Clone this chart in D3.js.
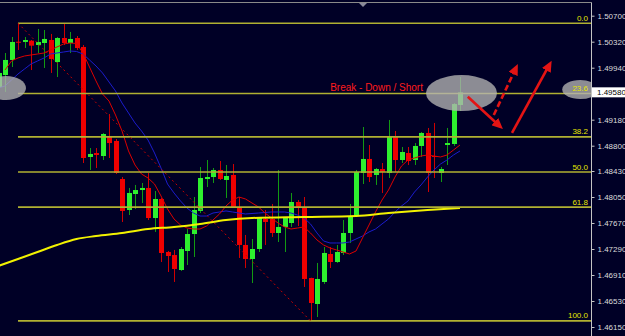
<!DOCTYPE html>
<html>
<head>
<meta charset="utf-8">
<script src="https://cdn.jsdelivr.net/npm/d3@7/dist/d3.min.js"></script>
<style>
body { margin: 0; background: #000026; }
svg { display: block; }
</style>
</head>
<body>
<svg id="chart" width="625" height="336"></svg>
<script>
// bar data, one entry per candle (left to right)
var opens = [1.49658, 1.49833, 1.50053, 1.50320, 1.50316, 1.50335, 1.50272, 1.50301, 1.50345, 1.50023,
    1.50374, 1.50301, 1.50374, 1.50243, 1.48635, 1.48693, 1.48649, 1.48942, 1.48869, 1.48313,
    1.47860, 1.48094, 1.48152, 1.48182, 1.47743, 1.48021, 1.47246, 1.47202, 1.46983, 1.47261,
    1.47509, 1.47846, 1.48313, 1.48342, 1.48445, 1.48299, 1.48372, 1.47904, 1.47349, 1.47144,
    1.47290, 1.47729, 1.47729, 1.47524, 1.47612, 1.47670, 1.47977, 1.47904, 1.46866, 1.46486,
    1.46808, 1.47217, 1.47100, 1.47232, 1.47524, 1.47772, 1.48401, 1.48606, 1.48372, 1.48459,
    1.48401, 1.48927, 1.48591, 1.48693, 1.48591, 1.48796, 1.48986, 1.48649, 1.48401, 1.48810,
    1.48825, 1.49395];
var highs = [1.49906, 1.50155, 1.50389, 1.50590, 1.50389, 1.50345, 1.50506, 1.50491, 1.50433, 1.50389,
    1.50586, 1.50462, 1.50403, 1.50272, 1.48766, 1.48766, 1.48986, 1.49263, 1.48898, 1.48342,
    1.48182, 1.48226, 1.48255, 1.48401, 1.48138, 1.48036, 1.47261, 1.47276, 1.47319, 1.47582,
    1.48050, 1.48489, 1.48591, 1.48474, 1.48576, 1.48518, 1.48532, 1.48050, 1.47495, 1.47436,
    1.47758, 1.47860, 1.47948, 1.48445, 1.47758, 1.48109, 1.48006, 1.48050, 1.46870, 1.47086,
    1.47319, 1.47319, 1.47349, 1.47714, 1.47948, 1.48445, 1.49073, 1.48810, 1.48474, 1.48547,
    1.49176, 1.49015, 1.48781, 1.48781, 1.48839, 1.49000, 1.49059, 1.49132, 1.48489, 1.49059,
    1.49424, 1.49804];
var lows = [1.49585, 1.49585, 1.49950, 1.50199, 1.50228, 1.49906, 1.50155, 1.49936, 1.49863, 1.49804,
    1.50272, 1.50155, 1.50199, 1.48547, 1.48445, 1.48474, 1.48591, 1.48620, 1.48386, 1.47685,
    1.47787, 1.47875, 1.47962, 1.47714, 1.47539, 1.47100, 1.46954, 1.46808, 1.46969, 1.47056,
    1.47173, 1.47816, 1.48196, 1.48255, 1.48299, 1.48036, 1.47889, 1.47159, 1.47012, 1.46793,
    1.47246, 1.47349, 1.47466, 1.47392, 1.47246, 1.47612, 1.47626, 1.46735, 1.46240, 1.46296,
    1.46779, 1.47012, 1.47086, 1.47202, 1.47378, 1.47758, 1.48240, 1.48269, 1.48226, 1.48109,
    1.48328, 1.48416, 1.48547, 1.48518, 1.48518, 1.48635, 1.48123, 1.48328, 1.48269, 1.48518,
    1.48796, 1.49307];
var closes = [1.49863, 1.50053, 1.50316, 1.50305, 1.50345, 1.50262, 1.50316, 1.50360, 1.50067, 1.50374,
    1.50301, 1.50360, 1.50228, 1.48620, 1.48679, 1.48664, 1.48971, 1.48839, 1.48401, 1.47846,
    1.48109, 1.48152, 1.48182, 1.47743, 1.48021, 1.47232, 1.47188, 1.46998, 1.47290, 1.47509,
    1.47860, 1.48328, 1.48342, 1.48445, 1.48313, 1.48357, 1.47904, 1.47349, 1.47144, 1.47290,
    1.47743, 1.47685, 1.47524, 1.47612, 1.47743, 1.47977, 1.47904, 1.46852, 1.46501, 1.46852,
    1.47232, 1.47100, 1.47246, 1.47524, 1.47772, 1.48416, 1.48606, 1.48342, 1.48459, 1.48416,
    1.48927, 1.48591, 1.48708, 1.48576, 1.48796, 1.48986, 1.48401, 1.48635, 1.48459, 1.48839,
    1.49409, 1.49580];

// moving averages, one value per bar
var redMA = [null, 1.49906, 1.50038, 1.50082, 1.50111, 1.50126, 1.50140, 1.50155, 1.50199, 1.50243,
    1.50286, 1.50301, 1.50294, 1.50155, 1.49950, 1.49746, 1.49556, 1.49453, 1.49249, 1.49015,
    1.48723, 1.48518, 1.48386, 1.48328, 1.48240, 1.48065, 1.47875, 1.47729, 1.47641, 1.47597,
    1.47582, 1.47582, 1.47626, 1.47714, 1.47802, 1.47919, 1.48006, 1.48050, 1.48021, 1.47962,
    1.47904, 1.47816, 1.47743, 1.47670, 1.47612, 1.47582, 1.47597, 1.47612, 1.47524, 1.47422,
    1.47349, 1.47305, 1.47276, 1.47246, 1.47217, 1.47261, 1.47451, 1.47641, 1.47831, 1.48006,
    1.48152, 1.48342, 1.48503, 1.48591, 1.48620, 1.48649, 1.48664, 1.48649, 1.48635, 1.48664,
    1.48737, 1.48810];
var blueMA = [1.49643, 1.49673, 1.49760, 1.49848, 1.49921, 1.49994, 1.50038, 1.50082, 1.50140, 1.50155,
    1.50169, 1.50184, 1.50177, 1.50140, 1.50053, 1.49965, 1.49863, 1.49731, 1.49599, 1.49424,
    1.49278, 1.49132, 1.49015, 1.48883, 1.48693, 1.48474, 1.48240, 1.48109, 1.47992, 1.47889,
    1.47816, 1.47772, 1.47772, 1.47816, 1.47831, 1.47846, 1.47831, 1.47816, 1.47802, 1.47809,
    1.47816, 1.47823, 1.47831, 1.47831, 1.47831, 1.47816, 1.47787, 1.47743, 1.47656, 1.47524,
    1.47407, 1.47378, 1.47378, 1.47378, 1.47392, 1.47436, 1.47480, 1.47539, 1.47582, 1.47656,
    1.47729, 1.47831, 1.47919, 1.47992, 1.48123, 1.48226, 1.48342, 1.48445, 1.48532, 1.48591,
    1.48664, 1.48723];
// slow average, read at a few bars
var yellowBars = [0, 3, 6, 9, 12, 15, 19, 23, 27, 31, 35, 39, 47, 55, 60, 66, 71];
var yellowMA = [1.47042, 1.47144, 1.47246, 1.47349, 1.47436, 1.47480, 1.47524, 1.47582, 1.47612,
    1.47656, 1.47714, 1.47743, 1.47758, 1.47772, 1.47816, 1.47860, 1.47889];

// price axis
var tickValues = [1.50700, 1.50320, 1.49940, 1.49180, 1.48800, 1.48430, 1.48050,
    1.47670, 1.47290, 1.46910, 1.46530, 1.46150];

// fibonacci retracement
var fibHigh = 1.50590, fibHighBar = 3;
var fibLow = 1.46240, fibLowBar = 48;
var fibLevels = [0, 23.6, 38.2, 50, 61.8, 100];
var fibLabels = ["0.0", "23.6", "38.2", "50.0", "61.8", "100.0"];

var svg = d3.select("#chart"),
    width = +svg.attr("width"),
    height = +svg.attr("height"),
    plotRight = 591;

var x = d3.scaleLinear().domain([0, 71]).range([-1.5, 460]);
var y = d3.scaleLinear().domain([1.46150, 1.50700]).range([327, 15.7]);

svg.append("rect").attr("width", width).attr("height", height).attr("fill", "#000026");

var defs = svg.append("defs");
defs.append("clipPath").attr("id", "plotclip")
    .append("rect").attr("x", 0).attr("y", 3).attr("width", plotRight).attr("height", height - 3);
defs.append("marker")
    .attr("id", "head")
    .attr("markerUnits", "userSpaceOnUse")
    .attr("markerWidth", 12).attr("markerHeight", 10)
    .attr("refX", 11).attr("refY", 5)
    .attr("orient", "auto")
    .append("path").attr("d", "M0,0 L11,5 L0,10 Z").attr("fill", "#e41414");

var plot = svg.append("g").attr("clip-path", "url(#plotclip)");

// candles
var bars = opens.map(function (d, i) { return i; });
var candle = plot.append("g").selectAll("g").data(bars).enter().append("g");
candle.append("line")
    .attr("x1", function (i) { return Math.round(x(i)) + 0.5; })
    .attr("x2", function (i) { return Math.round(x(i)) + 0.5; })
    .attr("y1", function (i) { return y(highs[i]); })
    .attr("y2", function (i) { return y(lows[i]); })
    .attr("stroke", function (i) { return closes[i] >= opens[i] ? "#129a12" : "#d00000"; })
    .attr("stroke-width", 1);
candle.append("rect")
    .attr("x", function (i) { return Math.round(x(i)) - 2; })
    .attr("width", 5)
    .attr("y", function (i) { return y(Math.max(opens[i], closes[i])); })
    .attr("height", function (i) { return Math.max(1, Math.abs(y(opens[i]) - y(closes[i]))); })
    .attr("fill", function (i) { return closes[i] >= opens[i] ? "#2ef02e" : "#ee0000"; });

// moving averages
var maLine = d3.line()
    .defined(function (d) { return d != null; })
    .x(function (d, i) { return x(i); })
    .y(function (d) { return y(d); });
plot.append("path").attr("d", maLine(blueMA))
    .attr("fill", "none").attr("stroke", "#1c1ccc").attr("stroke-width", 1);
plot.append("path").attr("d", maLine(redMA))
    .attr("fill", "none").attr("stroke", "#dd0000").attr("stroke-width", 1);
var slowLine = d3.line()
    .x(function (d, i) { return x(yellowBars[i]); })
    .y(function (d) { return y(d); })
    .curve(d3.curveMonotoneX);
plot.append("path").attr("d", slowLine(yellowMA))
    .attr("fill", "none").attr("stroke", "#f2f200").attr("stroke-width", 2);

// fib levels
var fibPrice = function (r) { return fibHigh - (fibHigh - fibLow) * r / 100; };
var fib = plot.append("g");
fib.selectAll("line").data(fibLevels).enter().append("line")
    .attr("x1", x(fibHighBar)).attr("x2", plotRight)
    .attr("y1", function (d) { return y(fibPrice(d)); })
    .attr("y2", function (d) { return y(fibPrice(d)); })
    .attr("stroke", "#b0b032").attr("stroke-width", 1.6);
plot.append("line")
    .attr("x1", x(fibHighBar)).attr("y1", y(fibHigh))
    .attr("x2", x(fibLowBar)).attr("y2", y(fibLow))
    .attr("stroke", "#c80000").attr("stroke-width", 1)
    .attr("stroke-dasharray", "2,3");

// highlight ellipses
var ellipses = [
    {bar: 1.15, price: 1.49643, rx: 20, ry: 12},
    {bar: 71.23, price: 1.49570, rx: 35.5, ry: 18},
    {bar: 89.5, price: 1.49621, rx: 18, ry: 9.5}
];
plot.selectAll("ellipse").data(ellipses).enter().append("ellipse")
    .attr("cx", function (d) { return x(d.bar); })
    .attr("cy", function (d) { return y(d.price); })
    .attr("rx", function (d) { return d.rx; })
    .attr("ry", function (d) { return d.ry; })
    .attr("fill", "#b4b4b4").attr("fill-opacity", 0.78);

plot.append("g").selectAll("text").data(fibLevels).enter().append("text")
    .attr("x", plotRight - 3)
    .attr("y", function (d) { return y(fibPrice(d)) - 2.5; })
    .attr("text-anchor", "end")
    .attr("font-family", "Liberation Sans, Arial, sans-serif")
    .attr("font-size", "8px")
    .attr("fill", "#e6e600")
    .text(function (d, i) { return fibLabels[i]; });

// annotation
plot.append("text")
    .attr("x", x(65.3)).attr("y", y(1.49599))
    .attr("text-anchor", "end")
    .attr("font-family", "Liberation Sans, Arial, sans-serif")
    .attr("font-size", "10px")
    .attr("fill", "#ff1c1c")
    .text("Break - Down / Short");

var arrows = [
    {x1: 72.2, p1: 1.49516, x2: 77.6, p2: 1.49044, dash: null},
    {x1: 76.2, p1: 1.49249, x2: 79.9, p2: 1.49994, dash: "6,3"},
    {x1: 79.0, p1: 1.48986, x2: 85.1, p2: 1.50042, dash: null}
];
arrows.forEach(function (a) {
    var ax = x(a.x1), ay = y(a.p1), bx = x(a.x2), by = y(a.p2);
    var len = Math.sqrt((bx - ax) * (bx - ax) + (by - ay) * (by - ay));
    var k = (len - 6) / len;
    plot.append("line")
        .attr("x1", ax).attr("y1", ay)
        .attr("x2", ax + (bx - ax) * k).attr("y2", ay + (by - ay) * k)
        .attr("stroke", "#e41414").attr("stroke-width", 2.6)
        .attr("stroke-dasharray", a.dash);
    plot.append("path")
        .attr("d", "M" + ax + "," + ay + "L" + bx + "," + by)
        .attr("stroke", "none").attr("fill", "none")
        .attr("marker-end", "url(#head)");
});

// frame and chart shift marker
svg.append("line").attr("x1", 0).attr("x2", plotRight + 0.5).attr("y1", 2.5).attr("y2", 2.5)
    .attr("stroke", "#8a8a8a");
svg.append("line").attr("x1", plotRight + 0.5).attr("x2", plotRight + 0.5).attr("y1", 2.5).attr("y2", height)
    .attr("stroke", "#c4c4c4");
svg.append("path").attr("d", "M359,3 L367,3 L363,7 Z").attr("fill", "#8a8a9a");

// price axis
var yAxis = svg.append("g")
    .attr("transform", "translate(" + (plotRight + 0.5) + ",0)")
    .call(d3.axisRight(y).tickValues(tickValues).tickSize(3).tickPadding(3)
        .tickFormat(d3.format(".5f")));
yAxis.select(".domain").remove();
yAxis.selectAll("line").attr("stroke", "#c4c4c4");
yAxis.selectAll("text")
    .attr("fill", "#dcdcdc")
    .attr("font-family", "Liberation Sans, Arial, sans-serif")
    .attr("font-size", "8px");

// current price label
var last = closes[closes.length - 1];
svg.append("rect").attr("x", plotRight + 1).attr("y", y(last) - 5).attr("width", width - plotRight - 1).attr("height", 10)
    .attr("fill", "#ffffff");
svg.append("text").attr("x", plotRight + 6).attr("y", y(last)).attr("dy", "0.34em")
    .attr("font-family", "Liberation Sans, Arial, sans-serif")
    .attr("font-size", "8px").attr("fill", "#000000")
    .text(d3.format(".5f")(last));
</script>
</body>
</html>
